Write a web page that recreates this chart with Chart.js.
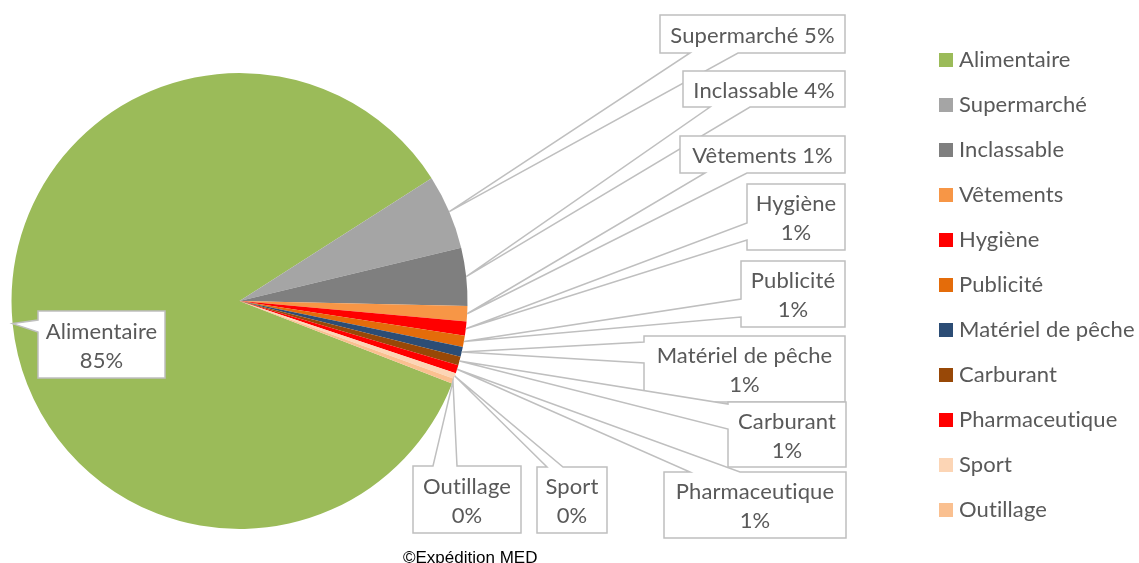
<!DOCTYPE html>
<html>
<head>
<meta charset="utf-8">
<script src="https://cdn.jsdelivr.net/npm/chart.js@4.4.1/dist/chart.umd.min.js"></script>
<style>
html,body{margin:0;padding:0;background:#ffffff;}
#wrap{width:1139px;height:563px;position:relative;overflow:hidden;}
</style>
</head>
<body>
<div id="wrap"><canvas id="c" width="1139" height="563"></canvas></div>
<script>
// ---- data ----
const categories = ['Alimentaire','Supermarché','Inclassable','Vêtements','Hygiène','Publicité','Matériel de pêche','Carburant','Pharmaceutique','Sport','Outillage'];
const values = [85.1, 5.3, 4.1, 1.1, 1.0, 0.8, 0.7, 0.6, 0.6, 0.4, 0.35];
const sliceColors = ['#9BBB59','#A5A5A5','#7F7F7F','#F79646','#FF0000','#E46C0A','#2C4D75','#984807','#FF0000','#FCD5B5','#FAC090'];
const footerText = '©Expédition MED';

// ---- layout of the callout boxes (x0,y0,x1,y1), wedge side, wedge base, number of text lines ----
const calloutLayout = [
  {box:[38,311,165,378],   side:'left',   base:[320,332], lines:2},
  {box:[660,15,845,53],    side:'bottom', base:[690,738], lines:1},
  {box:[683,71,845,107],   side:'bottom', base:[710,750], lines:1},
  {box:[680,136,845,173],  side:'bottom', base:[705,747], lines:1},
  {box:[747,184,845,250],  side:'left',   base:[223,240], lines:2},
  {box:[741,261,845,327],  side:'left',   base:[299,317], lines:2},
  {box:[644,336,845,402],  side:'left',   base:[342,363], lines:2},
  {box:[728,402,846,467],  side:'left',   base:[404,429], lines:2},
  {box:[664,472,846,538],  side:'top',    base:[690,740], lines:2},
  {box:[537,467,607,533],  side:'top',    base:[547,563], lines:2},
  {box:[413,466,521,533],  side:'top',    base:[433,457], lines:2}
];

const FONT = '"Lato", "Carlito", "Calibri", sans-serif';
const TEXT_COLOR = '#595959';

const calloutPlugin = {
  id: 'callouts',
  afterDatasetsDraw(chart) {
    const ctx = chart.ctx;
    const meta = chart.getDatasetMeta(0);
    const total = values.reduce((a, b) => a + b, 0);
    ctx.save();
    meta.data.forEach((arc, i) => {
      const p = arc.getProps(['x','y','startAngle','endAngle','outerRadius'], true);
      const mid = (p.startAngle + p.endAngle) / 2;
      const tx = p.x + Math.cos(mid) * p.outerRadius;
      const ty = p.y + Math.sin(mid) * p.outerRadius;
      const L = calloutLayout[i];
      const [x0, y0, x1, y1] = L.box;
      const bmin = Math.min(L.base[0], L.base[1]);
      const bmax = Math.max(L.base[0], L.base[1]);
      const pts = [[x0, y0]];
      if (L.side === 'top') pts.push([bmin, y0], [tx, ty], [bmax, y0]);
      pts.push([x1, y0], [x1, y1]);
      if (L.side === 'bottom') pts.push([bmax, y1], [tx, ty], [bmin, y1]);
      pts.push([x0, y1]);
      if (L.side === 'left') pts.push([x0, bmax], [tx, ty], [x0, bmin]);
      ctx.beginPath();
      pts.forEach((q, k) => k ? ctx.lineTo(q[0], q[1]) : ctx.moveTo(q[0], q[1]));
      ctx.closePath();
      ctx.fillStyle = '#ffffff';
      ctx.fill();
      ctx.strokeStyle = '#BFBFBF';
      ctx.lineWidth = 1.5;
      ctx.lineJoin = 'miter';
      ctx.stroke();

      const pct = Math.round(values[i] / total * 100) + '%';
      const lines = L.lines === 2 ? [categories[i], pct] : [categories[i] + ' ' + pct];
      ctx.font = '22px ' + FONT;
      ctx.letterSpacing = '0.1px';
      ctx.fillStyle = TEXT_COLOR;
      ctx.textAlign = 'center';
      ctx.textBaseline = 'alphabetic';
      const cx = (x0 + x1) / 2;
      const cy = (y0 + y1) / 2;
      lines.forEach((t, k) => {
        ctx.fillText(t, cx, cy + 8.5 + (k - (lines.length - 1) / 2) * 29);
      });
    });
    ctx.restore();
  },
  afterDraw(chart) {
    const ctx = chart.ctx;
    ctx.save();
    // legend
    ctx.font = '22px ' + FONT;
    ctx.letterSpacing = '0.1px';
    ctx.textAlign = 'left';
    ctx.textBaseline = 'alphabetic';
    categories.forEach((name, i) => {
      const rowY = 60 + 45 * i;
      ctx.fillStyle = sliceColors[i];
      ctx.fillRect(939, rowY - 7, 14, 14);
      ctx.fillStyle = TEXT_COLOR;
      ctx.fillText(name, 959, rowY + 7);
    });
    // footer
    ctx.letterSpacing = '0px';
    ctx.font = '17px "Liberation Sans", Arial, sans-serif';
    ctx.fillStyle = '#000000';
    ctx.fillText(footerText, 403, 563);
    ctx.restore();
  }
};

new Chart(document.getElementById('c'), {
  type: 'pie',
  data: {
    labels: categories,
    datasets: [{
      data: values,
      backgroundColor: sliceColors,
      borderWidth: 0,
      hoverOffset: 0
    }]
  },
  options: {
    responsive: false,
    devicePixelRatio: 1,
    animation: false,
    events: [],
    rotation: 111.2,
    layout: { padding: { left: 11.5, top: 73, right: 1139 - 467.5, bottom: 563 - 529 } },
    plugins: {
      legend: { display: false },
      tooltip: { enabled: false },
      title: { display: false }
    }
  },
  plugins: [calloutPlugin]
});
</script>
</body>
</html>
